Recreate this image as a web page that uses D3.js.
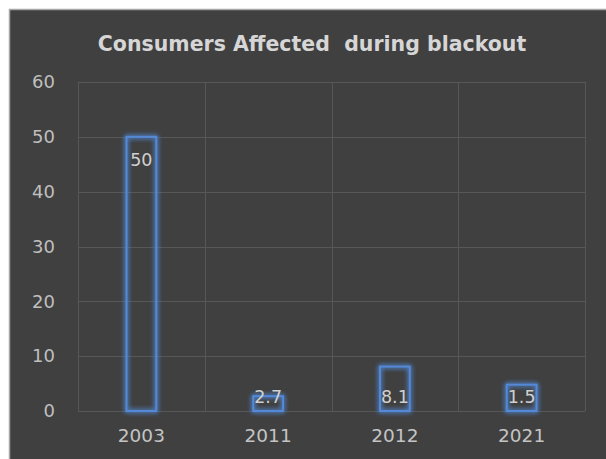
<!DOCTYPE html>
<html>
<head>
<meta charset="utf-8">
<script src="https://cdnjs.cloudflare.com/ajax/libs/d3/7.8.5/d3.min.js"></script>
<style>
  html, body { margin: 0; padding: 0; background: #fff; }
  svg { display: block; }
  text { font-family: "DejaVu Sans", sans-serif; }
</style>
</head>
<body>
<svg id="chart"></svg>
<script>
// chart data
const years = ["2003", "2011", "2012", "2021"];
const consumers = [50, 2.7, 8.1, 4.8];
const valueLabels = ["50", "2.7", "8.1", "1.5"];
const yTicks = [0, 10, 20, 30, 40, 50, 60];
const title = "Consumers Affected  during blackout";

const W = 606, H = 459;
const margin = { top: 82, right: 21, bottom: 48, left: 78 };

const svg = d3.select("#chart").attr("width", W).attr("height", H);

// glow for the bar outlines
const defs = svg.append("defs");
const glow = defs.append("filter").attr("id", "glow")
  .attr("x", "-50%").attr("y", "-50%").attr("width", "200%").attr("height", "200%");
glow.append("feGaussianBlur").attr("in", "SourceGraphic").attr("stdDeviation", 2.6).attr("result", "blur");
const merge = glow.append("feMerge");
merge.append("feMergeNode").attr("in", "blur");
merge.append("feMergeNode").attr("in", "blur");
merge.append("feMergeNode").attr("in", "SourceGraphic");

// dark chart panel with thin grey frame
svg.append("rect")
  .attr("x", 9.5).attr("y", 9.5)
  .attr("width", W).attr("height", H)
  .attr("fill", "#404040")
  .attr("stroke", "#a6a6a6")
  .attr("stroke-width", 1.5);

const x = d3.scaleBand()
  .domain(years)
  .range([margin.left, W - margin.right])
  .paddingInner(0).paddingOuter(0);

const y = d3.scaleLinear()
  .domain([0, 60])
  .range([H - margin.bottom, margin.top]);

// gridlines
const grid = svg.append("g");
grid.selectAll("line.h")
  .data(yTicks)
  .join("line")
  .attr("class", "h")
  .attr("x1", margin.left).attr("x2", W - margin.right)
  .attr("y1", d => Math.round(y(d)) + 0.5).attr("y2", d => Math.round(y(d)) + 0.5)
  .attr("stroke", "#575757").attr("stroke-width", 1);

const vlines = years.map(d => x(d)).concat([x(years[years.length - 1]) + x.bandwidth()]);
grid.selectAll("line.v")
  .data(vlines)
  .join("line")
  .attr("class", "v")
  .attr("x1", d => Math.round(d) + 0.5).attr("x2", d => Math.round(d) + 0.5)
  .attr("y1", y(60)).attr("y2", y(0))
  .attr("stroke", "#575757").attr("stroke-width", 1);

// y axis labels
const yAxis = d3.axisLeft(y).tickValues(yTicks).tickSize(0).tickPadding(23);
svg.append("g")
  .attr("transform", `translate(${margin.left},0)`)
  .call(yAxis)
  .call(g => g.select(".domain").remove())
  .call(g => g.selectAll("text")
    .attr("fill", "#bfbfbf")
    .attr("font-size", 18)
    .style("font-family", "DejaVu Sans, sans-serif"));

// x axis labels
const xAxis = d3.axisBottom(x).tickSize(0).tickPadding(18);
svg.append("g")
  .attr("transform", `translate(0,${y(0)})`)
  .call(xAxis)
  .call(g => g.select(".domain").remove())
  .call(g => g.selectAll("text")
    .attr("fill", "#c4c4c4")
    .attr("font-size", 18.5)
    .style("font-family", "DejaVu Sans, sans-serif"));

// bars: outline only
const barW = x.bandwidth() * 0.235;
const data = years.map((yr, i) => ({ year: yr, value: consumers[i], label: valueLabels[i] }));

svg.append("g")
  .selectAll("rect")
  .data(data)
  .join("rect")
  .attr("x", d => x(d.year) + (x.bandwidth() - barW) / 2)
  .attr("y", d => y(d.value))
  .attr("width", barW)
  .attr("height", d => y(0) - y(d.value))
  .attr("fill", "none")
  .attr("stroke", "#5289d6")
  .attr("stroke-width", 2)
  .attr("filter", "url(#glow)");

// value labels
svg.append("g")
  .selectAll("text")
  .data(data)
  .join("text")
  .attr("x", d => x(d.year) + x.bandwidth() / 2)
  .attr("y", d => (y(0) - y(d.value) > 60 ? y(d.value) + 23 : y(0) - 14))
  .attr("text-anchor", "middle")
  .attr("dominant-baseline", "central")
  .attr("fill", "#d0d0d0")
  .attr("font-size", 17.5)
  .text(d => d.label);

// title
svg.append("text")
  .attr("x", 312)
  .attr("y", 44)
  .attr("text-anchor", "middle")
  .attr("dominant-baseline", "central")
  .attr("fill", "#d6d6d6")
  .attr("font-size", 20.5)
  .attr("font-weight", "bold")
  .style("white-space", "pre")
  .text(title);
</script>
</body>
</html>
